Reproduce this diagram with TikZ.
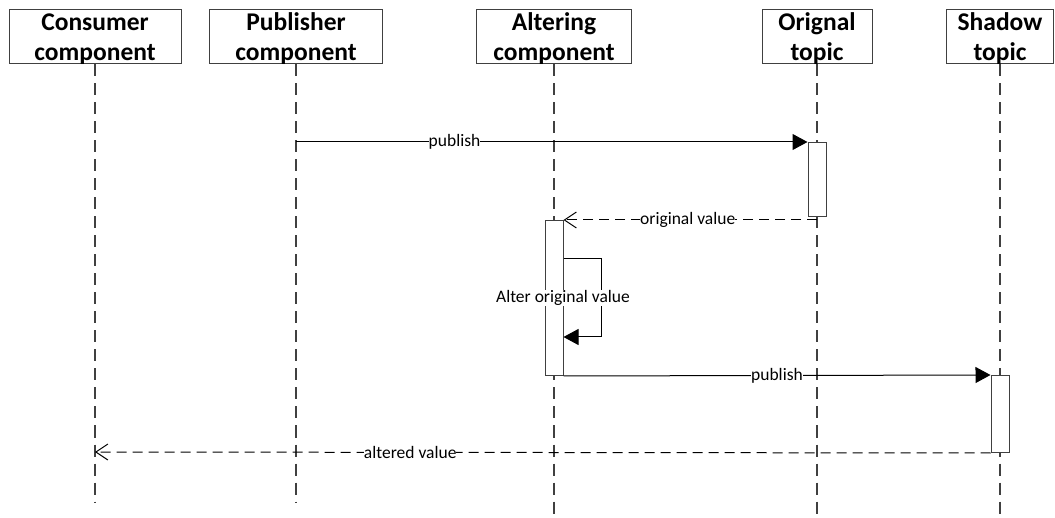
\documentclass[tikz,border=0pt]{standalone}
\usepackage{fontspec}
\setmainfont{Carlito}
\usetikzlibrary{arrows.meta}
\definecolor{linegray}{RGB}{64,64,64}
\begin{document}
\begin{tikzpicture}[x=1pt,y=-1pt,
  headbox/.style={draw=linegray, line width=1pt, fill=white, minimum height=54pt, inner sep=0pt},
  headtext/.style={align=center, inner sep=0pt, font=\fontsize{25.5}{30}\selectfont\bfseries},
  life/.style={draw=linegray, line width=1.2pt, dash pattern=on 12pt off 7pt},
  act/.style={draw=linegray, line width=1pt, fill=white, minimum width=18pt, inner sep=0pt, anchor=north},
  msg/.style={line width=1pt, -{Triangle[length=15pt,width=16pt]}},
  reply/.style={line width=1pt, dash pattern=on 10pt off 6pt, -{Straight Barb[length=12pt,width=16pt,line width=1pt]}},
  lbl/.style={fill=white, inner sep=0pt, font=\fontsize{17.5}{20}\selectfont}]
\useasboundingbox (0,0) rectangle (1055,518);

% participant heads
\node[headbox, minimum width=172pt] (cons) at (95,37) {};
\node[headtext] (consT) at (95,39) {Consumer\\component};
\node[headbox, minimum width=173pt] (pub) at (296,37) {};
\node[headtext] (pubT) at (296,39) {Publisher\\component};
\node[headbox, minimum width=155pt] (alt) at (554,37) {};
\node[headtext] (altT) at (554,39) {Altering\\component};
\node[headbox, minimum width=110pt] (orig) at (817,37) {};
\node[headtext] (origT) at (817,39) {Orignal\\topic};
\node[headbox, minimum width=107pt] (shad) at (1000,37) {};
\node[headtext] (shadT) at (1000,39) {Shadow\\topic};

% lifelines
\coordinate (consEnd) at (95,503);
\coordinate (pubEnd) at (296,503);
\coordinate (altEnd) at (554,518);
\coordinate (origEnd) at (817,518);
\coordinate (shadEnd) at (1000,518);
\draw[life] (cons.south) -- (consEnd);
\draw[life] (pub.south) -- (pubEnd);
\draw[life] (alt.south) -- (altEnd);
\draw[life] (orig.south) -- (origEnd);
\draw[life] (shad.south) -- (shadEnd);

% activation bars
\node[act, minimum height=74pt] (actO) at (817,142) {};
\node[act, minimum height=155pt] (actA) at (554,220) {};
\node[act, minimum height=77pt] (actS) at (1000,375) {};

% messages
\coordinate (pubMsg) at (296,142);
\coordinate (origMsg) at (817,220);
\coordinate (consMsg) at (95,452);
\draw[msg] (pubMsg) -- (actO.north west) node[lbl, pos=0.31] {publish};
\draw[reply] (origMsg) -- (actA.north east) node[lbl, pos=0.51] {original value};
\draw[msg] (actA.north east) ++(0,39) -- ++(38,0) -- ++(0,78) -- ++(-38,0);
\node[lbl] (alterLbl) at (563,298) {Alter original value};
\draw[msg] (actA.south east) -- (actS.north west) node[lbl, midway] {publish};
\draw[reply] (actS.south west) -- (consMsg) node[lbl, pos=0.648] {altered value};
\end{tikzpicture}
\end{document}
